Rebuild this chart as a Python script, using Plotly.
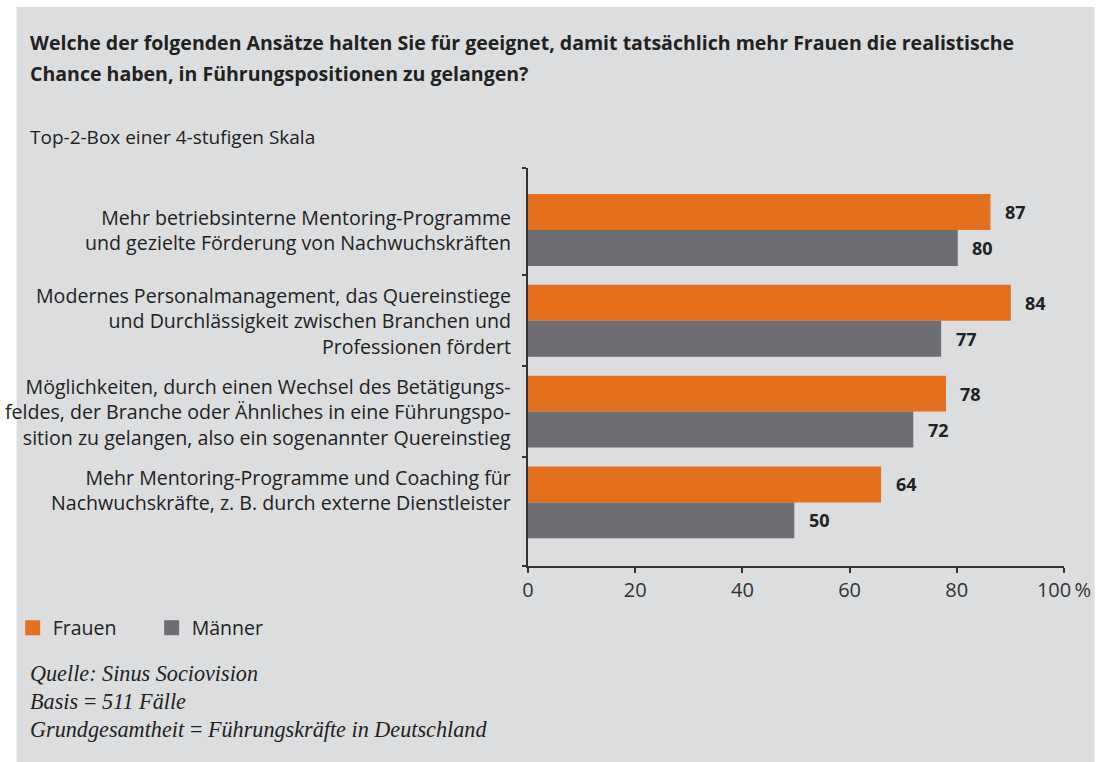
import plotly.graph_objects as go

# ---------------- data ----------------
categories = [
    "Mehr betriebsinterne Mentoring-Programme<br>und gezielte Förderung von Nachwuchskräften",
    "Modernes Personalmanagement, das Quereinstiege<br>und Durchlässigkeit zwischen Branchen und<br>Professionen fördert",
    "Möglichkeiten, durch einen Wechsel des Betätigungs-<br>feldes, der Branche oder Ähnliches in eine Führungspo-<br>sition zu gelangen, also ein sogenannter Quereinstieg",
    "Mehr Mentoring-Programme und Coaching für<br>Nachwuchskräfte, z. B. durch externe Dienstleister",
]
# bar lengths as drawn in the picture
frauen_bars = [86.0, 89.8, 77.7, 65.6]
maenner_bars = [79.9, 76.8, 71.6, 49.4]
# printed value labels
frauen_labels = [87, 84, 78, 64]
maenner_labels = [80, 77, 72, 50]
series_names = ["Frauen", "Männer"]
x_ticks = [0, 20, 40, 60, 80, 100]
x_ticktext = ["0", "20", "40", "60", "80", "100\u2009%"]

title_lines = [
    "Welche der folgenden Ansätze halten Sie für geeignet, damit tatsächlich mehr Frauen die realistische",
    "Chance haben, in Führungspositionen zu gelangen?",
]
subtitle = "Top-2-Box einer 4-stufigen Skala"
notes = [
    "Quelle: Sinus Sociovision",
    "Basis\u2009=\u2009511 Fälle",
    "Grundgesamtheit\u2009=\u2009Führungskräfte in Deutschland",
]

# ---------------- style ----------------
W, H = 1103, 762
L, R, T, B = 527, 31, 168, 196
ORANGE = "#E4701E"
GREY = "#6D6E71"
BG = "#DCDDDF"
TXT = "#222222"
AX = "#333333"
SANS = "Open Sans"
SERIF = "Liberation Serif"

pw, ph = W - L - R, H - T - B
CAT_PX = 90.8          # pixel height of one category band
LW = 3                 # bar outline width (same colour as fill)


def px_x(p):
    return (p - L) / pw


def px_y(q):
    return (H - B - q) / ph


pos = list(range(len(categories)))
bw_full = 0.396
pad = (LW / 2) / CAT_PX
bw = bw_full - 2 * pad

fig = go.Figure()
fig.add_trace(go.Bar(
    name=series_names[0], y=pos, x=frauen_bars, orientation="h",
    width=bw, offset=-bw_full + pad, marker=dict(color=ORANGE, line=dict(width=LW, color=ORANGE)),
    hoverinfo="skip",
))
fig.add_trace(go.Bar(
    name=series_names[1], y=pos, x=maenner_bars, orientation="h",
    width=bw, offset=pad, marker=dict(color=GREY, line=dict(width=LW, color=GREY)),
    hoverinfo="skip",
))

annotations = []
# value labels
for i, (v, t) in enumerate(zip(frauen_bars, frauen_labels)):
    annotations.append(dict(x=v, y=i - bw_full / 2, xref="x", yref="y", text=f"<b>{t}</b>",
                            showarrow=False, xanchor="left", yanchor="middle", xshift=14,
                            font=dict(family=SANS, size=18, color=TXT)))
for i, (v, t) in enumerate(zip(maenner_bars, maenner_labels)):
    annotations.append(dict(x=v, y=i + bw_full / 2, xref="x", yref="y", text=f"<b>{t}</b>",
                            showarrow=False, xanchor="left", yanchor="middle", xshift=14,
                            font=dict(family=SANS, size=18, color=TXT)))
# category labels
yshifts = [0, 0, 0, 12]
for i, c in enumerate(categories):
    annotations.append(dict(x=0, y=i, xref="x", yref="y", text=c, showarrow=False,
                            xanchor="right", yanchor="middle", align="right", xshift=-15,
                            yshift=yshifts[i],
                            font=dict(family=SANS, size=19.6, color=TXT)))
# title lines
for q, line in zip([42, 73], title_lines):
    annotations.append(dict(x=px_x(19), y=px_y(q), xref="paper", yref="paper",
                            text=f"<b>{line}</b>", showarrow=False, xanchor="left",
                            yanchor="middle", font=dict(family=SANS, size=19.55, color=TXT)))
annotations.append(dict(x=px_x(19), y=px_y(137), xref="paper", yref="paper", text=subtitle,
                        showarrow=False, xanchor="left", yanchor="middle",
                        font=dict(family=SANS, size=19, color=TXT)))
for q, line in zip([673, 701, 729], notes):
    annotations.append(dict(x=px_x(19), y=px_y(q), xref="paper", yref="paper",
                            text=f"<i>{line}</i>", showarrow=False, xanchor="left",
                            yanchor="middle", font=dict(family=SERIF, size=22.2, color=TXT)))

y_top = (T - 230) / CAT_PX
y_bot = (H - B - 230) / CAT_PX

fig.update_layout(
    width=W, height=H,
    margin=dict(l=L, r=R, t=T, b=B, pad=0),
    paper_bgcolor="white", plot_bgcolor="rgba(0,0,0,0)",
    barmode="overlay",
    showlegend=True,
    legend=dict(orientation="h", x=px_x(3), y=px_y(628), xanchor="left", yanchor="middle",
                font=dict(family=SANS, size=19.5, color=TXT), bgcolor="rgba(0,0,0,0)",
                entrywidth=94, entrywidthmode="pixels", traceorder="normal",
                itemclick=False, itemdoubleclick=False),
    xaxis=dict(range=[0, 100], tickvals=x_ticks, ticktext=x_ticktext, ticks="outside",
               ticklen=5, tickwidth=1.5, tickcolor=AX, showline=True, linecolor=AX,
               linewidth=1.5, showgrid=False, zeroline=False, fixedrange=True,
               tickfont=dict(family=SANS, size=20, color=AX)),
    yaxis=dict(range=[y_bot, y_top], tickvals=[y_top + 0.001, 0.5, 1.5, 2.5, y_bot - 0.001],
               showticklabels=False, ticks="outside", ticklen=4, tickwidth=1.5, tickcolor=AX,
               showline=True, linecolor=AX, linewidth=1.5, showgrid=False, zeroline=False,
               fixedrange=True),
    shapes=[dict(type="rect", xref="paper", yref="paper", x0=px_x(7), x1=px_x(W),
                 y0=px_y(H), y1=px_y(7), fillcolor=BG, line=dict(width=0), layer="below")],
    annotations=annotations,
)

fig.write_html(
    "out.html",
    config={"displayModeBar": False},
    post_script="document.body.style.margin='0';document.body.style.overflow='hidden';",
)
